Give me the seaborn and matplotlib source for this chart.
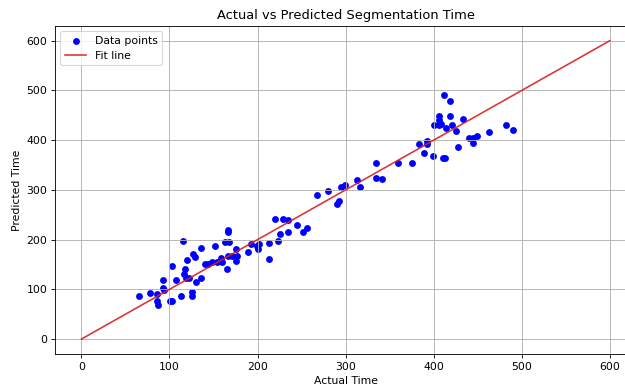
import numpy as np
import pandas as pd
import seaborn as sns
import matplotlib.pyplot as plt

# Giá trị
actual = [65.5, 78, 86, 86, 87, 93, 93, 94, 101, 103, 103, 107.5, 113, 115, 116,
          118, 119, 120, 122, 125, 125, 126.5, 129, 130.5, 135.5, 136, 140, 144,
          148, 152, 153.5, 158, 159.5, 163.5, 165, 166, 166, 167, 168, 171, 175,
          175, 176.5, 189, 193, 199, 200.5, 201.5, 213, 213, 223, 220, 226, 228.5,
          234.5, 234.5, 244.5, 252, 256, 268, 280, 290, 292, 294.5, 299.5, 313,
          316, 334, 335, 341.5, 360, 375.5, 383, 388.5, 392, 392, 399, 400, 406,
          406, 406.5, 408, 411, 411.5, 413, 414, 418, 418, 421, 425.5, 427.5, 433,
          440, 444.5, 445, 449, 463, 482.5, 490]
predicted = [86.8, 93, 90, 77, 69, 118, 102, 99, 77, 77, 146, 119, 86, 198, 130,
             140, 122, 160, 122, 86, 94, 172, 166, 114, 122, 184, 150, 150,
             156, 188, 156, 164, 154, 195, 140, 168, 216, 219, 195, 168, 182,
             157, 168, 176, 192, 188, 182, 192, 194, 162, 198, 242, 212, 242,
             239, 215, 230, 216, 223, 289, 297, 271, 278, 305, 309, 319,
             305, 323, 355, 321, 355, 355, 392, 375, 399, 392, 369, 431, 448,
             440, 430, 433, 365, 490, 365, 425, 478, 448, 431, 419, 387, 442,
             405, 405, 395, 409, 417, 430, 421]
fit_x = [0, 600]
fit_y = [0, 600]

df = pd.DataFrame({"actual": actual, "predicted": predicted})

fig = plt.figure(figsize=(8, 4.9664), dpi=78.125)
ax = fig.add_axes([0.088, 0.0876, 0.93, 0.846])

sns.scatterplot(x="actual", y="predicted", data=df, ax=ax, color="blue",
                linewidth=0, s=40, label="Data points")
sns.lineplot(x=fit_x, y=fit_y, ax=ax, color="#d62020", alpha=0.9, label="Fit line")

ax.set_xlim(-30, 630)
ax.set_ylim(-30, 630)
ax.set_title("Actual vs Predicted Segmentation Time")
ax.set_xlabel("Actual Time")
ax.set_ylabel("Predicted Time")
ax.grid(True)
ax.legend(loc="upper left")

plt.savefig("out.png", dpi=78.125)
